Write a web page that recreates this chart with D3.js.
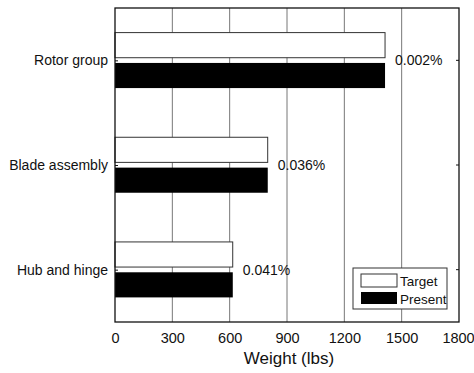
<!DOCTYPE html>
<html>
<head>
<meta charset="utf-8">
<script src="https://cdn.jsdelivr.net/npm/d3@7"></script>
<style>
  body { margin: 0; background: #fff; }
  text { font-family: "Liberation Sans", Arial, sans-serif; fill: #111; }
</style>
</head>
<body>
<svg width="474" height="373"></svg>
<script>
// data, bottom to top like the picture
var categories = ["Hub and hinge", "Blade assembly", "Rotor group"];
var target = [616, 799, 1413];
var present = [616.3, 799.3, 1413];
var diffLabels = ["0.041%", "0.036%", "0.002%"];
var xTicks = [0, 300, 600, 900, 1200, 1500, 1800];

var svg = d3.select("svg"),
  plotL = 115, plotR = 459, plotT = 8, plotB = 322;

var x = d3.scaleLinear().domain([0, 1800]).range([plotL, plotR]);
var y = d3.scaleLinear().domain([0.5, 3.5]).range([plotB, plotT]);

var barH = 0.24, halfGap = 0.025;
var font = "Liberation Sans, Arial, sans-serif";

// grid
svg.append("g").selectAll("line")
  .data(xTicks.slice(1, -1))
  .enter().append("line")
  .attr("x1", function (d) { return x(d); })
  .attr("x2", function (d) { return x(d); })
  .attr("y1", plotT).attr("y2", plotB)
  .attr("stroke", "#777").attr("stroke-width", 1);

// target bars (white)
svg.append("g").selectAll("rect")
  .data(target)
  .enter().append("rect")
  .attr("x", x(0))
  .attr("y", function (d, i) { return y(i + 1 + halfGap + barH); })
  .attr("width", function (d) { return x(d) - x(0); })
  .attr("height", function (d, i) { return y(i + 1 + halfGap) - y(i + 1 + halfGap + barH); })
  .attr("fill", "#fff").attr("stroke", "#333").attr("stroke-width", 1);

// present bars (black)
svg.append("g").selectAll("rect")
  .data(present)
  .enter().append("rect")
  .attr("x", x(0))
  .attr("y", function (d, i) { return y(i + 1 - halfGap); })
  .attr("width", function (d) { return x(d) - x(0); })
  .attr("height", function (d, i) { return y(i + 1 - halfGap - barH) - y(i + 1 - halfGap); })
  .attr("fill", "#000");

// difference labels
svg.append("g").selectAll("text")
  .data(diffLabels)
  .enter().append("text")
  .attr("x", function (d, i) { return x(Math.max(target[i], present[i])) + 10; })
  .attr("y", function (d, i) { return y(i + 1) + 5; })
  .attr("font-size", 14)
  .text(function (d) { return d; });

// frame
svg.append("rect")
  .attr("x", plotL).attr("y", plotT)
  .attr("width", plotR - plotL).attr("height", plotB - plotT)
  .attr("fill", "none").attr("stroke", "#111").attr("stroke-width", 1.3);

// bottom axis
var xAxis = svg.append("g")
  .attr("transform", "translate(0," + plotB + ")")
  .call(d3.axisBottom(x).tickValues(xTicks).tickSize(0).tickPadding(11).tickFormat(d3.format("d")));
xAxis.select(".domain").remove();
xAxis.selectAll("text").attr("font-size", 14.5).style("font-family", font).attr("fill", "#111");
// last label sits against the right edge in the original
xAxis.selectAll(".tick:last-of-type text").attr("dx", -1);

// left axis, small inward ticks
var yAxis = svg.append("g")
  .attr("transform", "translate(" + plotL + ",0)")
  .call(d3.axisLeft(y).tickValues([1, 2, 3]).tickSize(-3).tickPadding(7)
    .tickFormat(function (d) { return categories[d - 1]; }));
yAxis.select(".domain").remove();
yAxis.selectAll("line").attr("stroke", "#111");
yAxis.selectAll("text").attr("font-size", 14).style("font-family", font).attr("fill", "#111");

// right ticks
svg.append("g").selectAll("line")
  .data([1, 2, 3])
  .enter().append("line")
  .attr("x1", plotR).attr("x2", plotR - 3)
  .attr("y1", function (d) { return y(d); })
  .attr("y2", function (d) { return y(d); })
  .attr("stroke", "#111");

// axis title
svg.append("text")
  .attr("x", (plotL + plotR) / 2 + 2).attr("y", 364)
  .attr("text-anchor", "middle")
  .attr("font-size", 17)
  .text("Weight (lbs)");

// legend
var lg = svg.append("g").attr("transform", "translate(353,268)");
lg.append("rect").attr("width", 94).attr("height", 41)
  .attr("fill", "#fff").attr("stroke", "#333");
lg.append("rect").attr("x", 8).attr("y", 6).attr("width", 36).attr("height", 13)
  .attr("fill", "#fff").attr("stroke", "#333");
lg.append("rect").attr("x", 8).attr("y", 24).attr("width", 36).attr("height", 12)
  .attr("fill", "#000");
lg.append("text").attr("x", 47).attr("y", 18).attr("font-size", 13.5).text("Target");
lg.append("text").attr("x", 47).attr("y", 35.5).attr("font-size", 13.5).text("Present");
</script>
</body>
</html>
